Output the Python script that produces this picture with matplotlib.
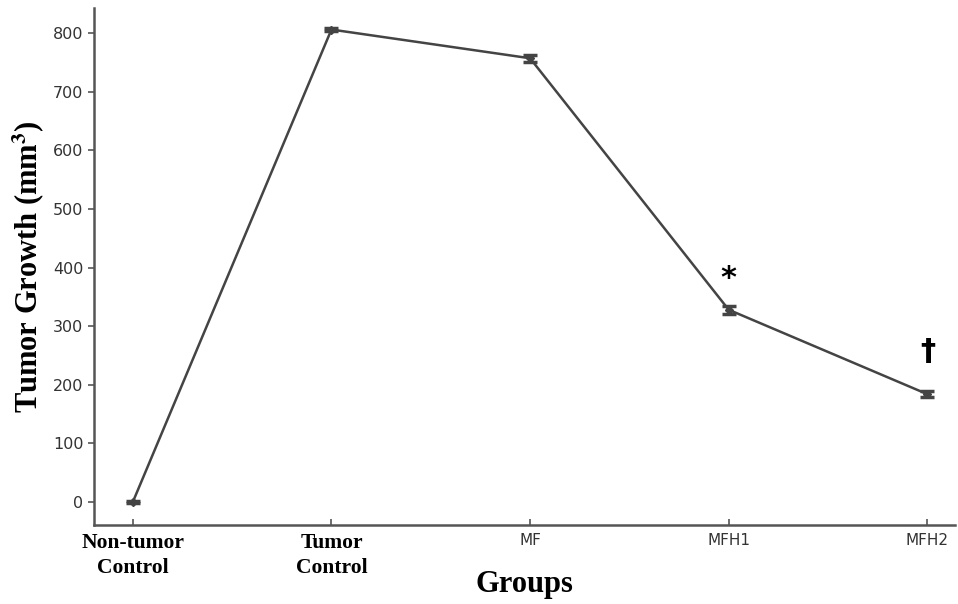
import numpy as np
import matplotlib
matplotlib.use("Agg")
import matplotlib.pyplot as plt

groups = ["Non-tumor\nControl", "Tumor\nControl", "MF", "MFH1", "MFH2"]
growth = [0, 806, 757, 328, 184]
err = [2, 3, 6, 7, 5]
marks = {3: ("*", 382), 4: ("\u2020", 256)}

plt.rcParams["mathtext.fontset"] = "stix"

fig = plt.figure(figsize=(9.58, 6.04), dpi=100)
ax = fig.add_axes([0.098, 0.131, 0.899, 0.856])

x = np.arange(len(groups))
ax.errorbar(x, growth, yerr=err, color="#444444", lw=1.8, marker="D", ms=4,
            capsize=5, capthick=2.5, elinewidth=2.5)

for i, (s, yy) in marks.items():
    ax.text(x[i], yy, s, ha="center", va="center", fontsize=22,
            fontweight="bold", family="DejaVu Sans")

ax.set_xlim(-0.196, 4.14)
ax.set_ylim(-39, 843)
ax.set_yticks(range(0, 801, 100))
ax.set_xticks(x)
ax.set_xticklabels(groups)
for i, lab in enumerate(ax.get_xticklabels()):
    if i < 2:
        lab.set_family("Liberation Serif")
        lab.set_fontweight("bold")
        lab.set_fontsize(15.5)
        lab.set_linespacing(1.35)
        lab.set_color("black")
    else:
        lab.set_fontsize(11)
        lab.set_color("#333333")
for lab in ax.get_yticklabels():
    lab.set_fontsize(11.5)
    lab.set_color("#333333")

ax.tick_params(axis="y", direction="out", length=4, width=1.2, color="#555555")
ax.tick_params(axis="x", direction="in", length=4, width=1.2, color="#555555", pad=6)
for side in ["top", "right"]:
    ax.spines[side].set_visible(False)
for side in ["left", "bottom"]:
    ax.spines[side].set_color("#555555")
    ax.spines[side].set_linewidth(1.8)

ax.set_ylabel("Tumor Growth (mm$^\\mathbf{3}$)", family="Liberation Serif",
              fontweight="bold", fontsize=22, labelpad=4)
ax.set_xlabel("Groups", family="Liberation Serif", fontweight="bold",
              fontsize=22, labelpad=-6)

fig.savefig("out.png", dpi=100)
